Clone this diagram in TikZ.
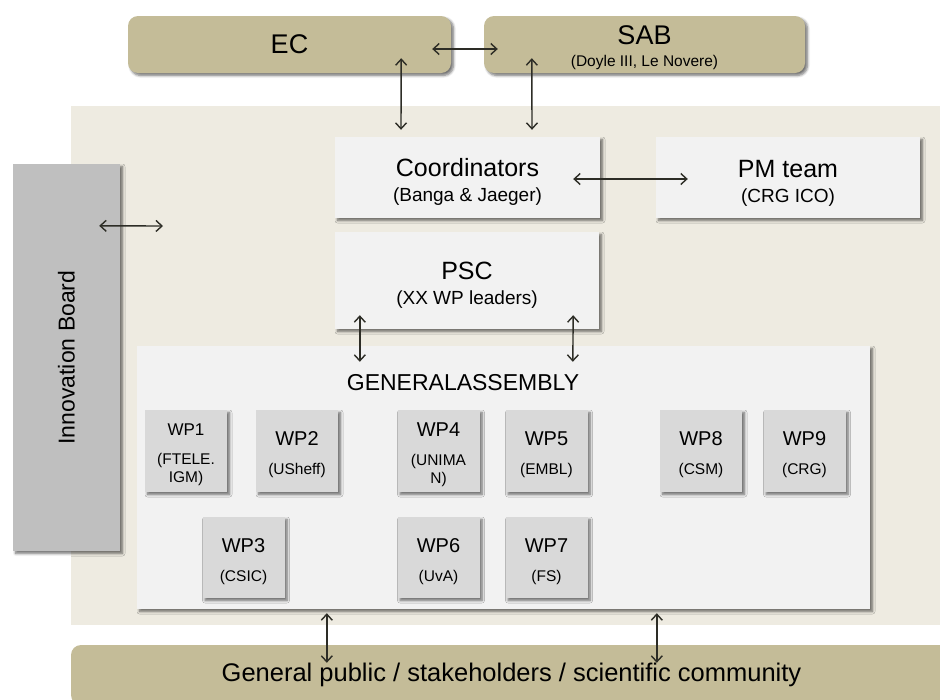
\documentclass[tikz,border=0pt]{standalone}
\usepackage{fontspec}
\setmainfont{Liberation Sans}
\usepackage{tikz}
\usetikzlibrary{positioning}
\usetikzlibrary{shadows.blur}
\usetikzlibrary{arrows.meta}

\definecolor{tanbox}{RGB}{196,188,152}
\definecolor{bgbeige}{RGB}{238,235,225}
\definecolor{panelgray}{RGB}{242,242,242}
\definecolor{wpgray}{RGB}{217,217,217}
\definecolor{boardgray}{RGB}{191,191,191}
\definecolor{arrowdark}{RGB}{45,45,38}

\newcommand{\boxsub}{\fontsize{19}{20}\selectfont}
\newcommand{\wpsub}{\fontsize{15.5}{18}\selectfont}
\newcommand{\padtop}[1]{\rule{0pt}{#1}}

\begin{document}
\begin{tikzpicture}
    [
    x=1pt, y=-1pt,
    boxshadow/.style={blur shadow={shadow xshift=2.5pt,shadow yshift=-2.5pt,shadow blur radius=2.5pt,shadow blur steps=6,shadow opacity=55}},
    outer/.style={fill=tanbox,rounded corners=10pt,boxshadow,inner sep=0pt,align=center},
    panel/.style={fill=panelgray,boxshadow,inner sep=0pt,align=center,font=\fontsize{25}{25}\selectfont},
    wp/.style={fill=wpgray,boxshadow,inner sep=0pt,minimum width=82pt,minimum height=82pt,align=center,font=\fontsize{20}{29}\selectfont},
    biarrow/.style={{Straight Barb[length=6pt,width=11pt]}-{Straight Barb[length=6pt,width=11pt]},line width=1.4pt,draw=arrowdark},
    ]
    \useasboundingbox (0,0) rectangle (940,699);
    \clip (0,0) rectangle (940,699);

    \fill [bgbeige] (71,106) rectangle (960,625);

    \node (ec) at (289.5,44.5) [outer,minimum width=323pt,minimum height=57pt,font=\fontsize{27}{27}\selectfont] {EC};
    \node (sab) at (644.5,44.5) [outer,minimum width=321pt,minimum height=57pt,font=\fontsize{27}{22}\selectfont] {\padtop{25.5pt}SAB\\{\fontsize{15.5}{16}\selectfont (Doyle III, Le Novere)}};

    \node (board) at (66.5,357.5) [fill=boardgray,boxshadow,minimum width=107pt,minimum height=387pt] {};
    \node (board-text) at (board) [rotate=90,font=\fontsize{23}{23}\selectfont] {Innovation Board};

    \node (coord) at (467.5,177.5) [panel,minimum width=265pt,minimum height=81pt] {\padtop{26pt}Coordinators\\{\boxsub (Banga \& Jaeger)}};
    \node (pm) at (788,177.5) [panel,minimum width=264pt,minimum height=81pt] {\padtop{28pt}PM team\\{\boxsub (CRG ICO)}};
    \node (psc) at (467,280.5) [panel,minimum width=264pt,minimum height=97pt] {\padtop{27pt}PSC\\{\boxsub (XX WP leaders)}};

    \node (ga) at (503.5,477.5) [panel,minimum width=733pt,minimum height=263pt] {};
    \node (ga-text) at (463,383) [font=\fontsize{23}{23}\selectfont] {GENERALASSEMBLY};

    \node (wp1) at (186,451) [wp,font=\fontsize{17}{29}\selectfont] {\padtop{20pt}WP1\\{\wpsub (FTELE.}\\[-11pt]{\wpsub IGM)}};
    \node (wp2) at (297,451) [wp] {\padtop{21.5pt}WP2\\{\wpsub (USheff)}};
    \node (wp3) at (243.5,557.5) [wp,minimum height=81pt] {\padtop{22pt}WP3\\{\wpsub (CSIC)}};
    \node (wp4) at (438.5,451) [wp] {\padtop{21.5pt}WP4\\{\wpsub (UNIMA}\\[-11pt]{\wpsub N)}};
    \node (wp5) at (546.5,451) [wp] {\padtop{21.5pt}WP5\\{\wpsub (EMBL)}};
    \node (wp6) at (438.5,557.5) [wp,minimum height=81pt] {\padtop{22pt}WP6\\{\wpsub (UvA)}};
    \node (wp7) at (546.5,557.5) [wp,minimum height=81pt] {\padtop{22pt}WP7\\{\wpsub (FS)}};
    \node (wp8) at (701,451) [wp] {\padtop{21.5pt}WP8\\{\wpsub (CSM)}};
    \node (wp9) at (804.5,451) [wp] {\padtop{21.5pt}WP9\\{\wpsub (CRG)}};

    \node (public) at (511.5,675) [fill=tanbox,rounded corners=10pt,minimum width=881pt,minimum height=60pt,font=\fontsize{25.5}{25.5}\selectfont] {General public / stakeholders / scientific community};

    \coordinate (board-end) at (163,226);

    \draw [biarrow] ([xshift=-19pt,yshift=-4.5pt]ec.east) to ([xshift=14pt,yshift=-4.5pt]sab.west);
    \draw [biarrow] ([xshift=-50pt,yshift=15pt]ec.south east) to ([xshift=-66.5pt,yshift=7pt]coord.north);
    \draw [biarrow] ([xshift=48pt,yshift=15pt]sab.south west) to ([xshift=64.5pt,yshift=7pt]coord.north);
    \draw [biarrow] ([xshift=-27pt,yshift=-1.5pt]coord.east) to ([xshift=32pt,yshift=-1.5pt]pm.west);
    \draw [biarrow] ([xshift=-21pt,yshift=-62pt]board.north east) to (board-end);
    \draw [biarrow] ([xshift=25pt,yshift=14pt]psc.south west) to ([xshift=223pt,yshift=-16pt]ga.north west);
    \draw [biarrow] ([xshift=-26pt,yshift=14pt]psc.south east) to ([xshift=436pt,yshift=-16pt]ga.north west);
    \draw [biarrow] ([xshift=190pt,yshift=-4pt]ga.south west) to ([xshift=256pt,yshift=-18pt]public.north west);
    \draw [biarrow] ([xshift=520pt,yshift=-4pt]ga.south west) to ([xshift=586pt,yshift=-18pt]public.north west);
  \end{tikzpicture}
\end{document}
